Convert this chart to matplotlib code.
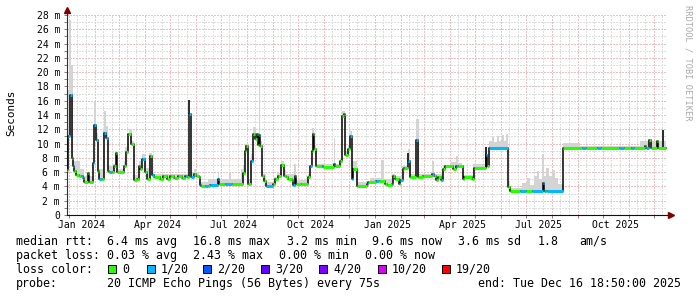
import numpy as np
import pandas as pd
import matplotlib
matplotlib.use("Agg")
import matplotlib.pyplot as plt
import matplotlib.dates as mdates
from matplotlib.ticker import MultipleLocator, NullFormatter
from matplotlib.patches import Rectangle

# median rtt, step values: days since 2024-01-01, ms, loss class (0 -> 0/20, 1 -> 1/20)
med_day = [-2.4, -1.2, 0.6, 3.0, 4.2, 5.4, 8.4, 12.0, 13.8, 16.2, 18.0, 22.2, 23.4, 29.3, 30.5,
           32.9, 34.7, 36.5, 39.5, 41.3, 43.7, 46.1, 47.9, 51.5, 53.9, 55.7, 57.5, 65.9, 67.7,
           70.1, 74.3, 77.8, 80.8, 83.8, 85.0, 87.4, 91.0, 93.4, 96.4, 98.8, 101.2, 109.0, 112.6,
           117.4, 121.0, 125.7, 130.5, 135.3, 138.9, 141.3, 143.7, 145.5, 149.7, 152.1, 155.1,
           156.3, 158.1, 163.0, 166.0, 168.9, 178.4, 179.6, 186.8, 195.2, 208.4, 210.2, 212.0,
           213.8, 217.9, 219.8, 222.7, 224.5, 225.7, 227.5, 228.7, 230.5, 233.5, 235.9, 244.3,
           246.7, 250.3, 253.9, 257.5, 259.9, 262.3, 267.1, 268.3, 270.1, 271.9, 277.8, 286.2,
           288.6, 290.4, 291.6, 293.4, 295.2, 303.0, 304.2, 316.8, 318.6, 324.6, 327.0, 329.4,
           330.6, 334.2, 336.6, 339.0, 340.2, 344.3, 356.9, 358.1, 367.7, 371.3, 378.5, 380.3,
           386.8, 388.0, 389.8, 394.6, 395.8, 399.4, 401.2, 406.0, 408.4, 415.6, 418.0, 424.0,
           434.7, 436.5, 439.5, 441.9, 444.9, 447.9, 449.7, 459.9, 463.5, 465.9, 471.3, 473.1,
           482.7, 484.5, 498.9, 500.6, 503.0, 525.1, 527.5, 540.1, 547.3, 554.5, 567.1, 568.3,
           570.7, 572.5, 591.0, 614.4, 618.6, 632.3, 636.5, 658.7, 664.7, 672.4, 676.6, 689.1,
           690.9, 694.5, 696.3, 703.5, 705.3, 714.8]
med_ms = [6.3, 11.0, 16.8, 8.0, 6.9, 6.2, 5.6, 5.5, 5.4, 5.2, 4.6, 5.9, 4.6, 7.3, 12.6,
          10.5, 6.2, 5.0, 5.0, 11.5, 10.8, 6.1, 6.0, 6.0, 6.9, 8.7, 6.0, 6.9, 8.8,
          11.4, 9.9, 4.9, 5.1, 6.9, 6.4, 7.9, 6.0, 5.1, 8.2, 5.6, 5.3, 5.1, 5.4,
          5.1, 5.4, 5.2, 5.4, 5.2, 5.4, 5.3, 14.1, 5.3, 5.8, 5.5, 5.3,
          4.2, 4.05, 4.05, 4.1, 4.2, 5.1, 4.3, 4.3, 4.3, 5.9, 8.9, 9.6,
          4.4, 7.5, 11.3, 10.6, 11.3, 9.8, 11.2, 9.6, 5.4, 4.8, 4.1, 4.4,
          5.0, 5.4, 7.0, 5.4, 5.3, 5.1, 4.9, 4.2, 5.4, 4.3, 4.4, 5.3,
          6.9, 8.9, 11.4, 9.3, 6.8, 6.8, 6.7, 7.2, 6.9, 7.5, 13.8, 14.2,
          8.4, 9.3, 11.1, 5.1, 6.5, 4.0, 4.3, 4.6, 4.8, 4.7, 4.4, 4.2,
          4.4, 5.5, 5.1, 4.4, 4.9, 6.5, 6.6, 7.5, 5.3, 10.5, 5.3, 5.4,
          5.8, 5.4, 4.9, 5.3, 4.9, 6.5, 6.8, 6.4, 6.8, 6.8, 5.1, 5.3,
          5.1, 6.6, 8.4, 6.8, 9.4, 3.9, 3.3, 3.3, 3.3, 3.3, 4.5, 3.3,
          3.3, 3.3, 9.4, 9.4, 9.4, 9.4, 9.4, 9.4, 9.4, 9.4, 9.4, 9.7,
          9.45, 10.5, 9.45, 10.3, 9.45, 9.45]
med_loss = [0, 1, 1, 0, 1, 0, 0, 0, 1, 0, 0, 0, 0, 1, 1,
            1, 0, 1, 0, 1, 1, 0, 1, 0, 0, 0, 0, 0, 0,
            0, 0, 0, 0, 0, 0, 1, 0, 0, 0, 1, 0, 0, 0,
            0, 0, 0, 0, 0, 1, 0, 1, 1, 0, 0, 0,
            1, 0, 1, 0, 1, 1, 0, 1, 0, 0, 0, 0,
            0, 1, 0, 0, 0, 0, 1, 0, 0, 0, 1, 0,
            0, 0, 0, 0, 0, 0, 0, 1, 1, 0, 0, 0,
            1, 0, 0, 0, 0, 1, 0, 1, 0, 0, 0, 0,
            0, 0, 1, 1, 0, 0, 1, 0, 1, 0, 0, 0,
            1, 0, 0, 0, 1, 0, 0, 1, 0, 1, 0, 0,
            1, 0, 0, 0, 1, 0, 0, 0, 1, 0, 0, 0,
            0, 0, 1, 0, 1, 0, 0, 1, 0, 1, 1, 1,
            0, 1, 0, 1, 0, 1, 0, 1, 0, 1, 0, 0,
            1, 0, 0, 0, 0, 0]

# smoke (spread of the pings), upper edge as steps
smoke_day = [-3.0, -0.6, 2.4, 4.2, 13.2, 18.0, 28.7, 30.5, 32.9, 34.7, 40.7, 41.9, 43.7, 46.1,
             52.7, 57.5, 65.9, 67.1, 71.3, 76.0, 77.8, 83.8, 86.8, 91.0, 95.8, 98.8, 101.8,
             143.1, 149.7, 152.1, 155.7, 166.5, 177.8, 179.6, 191.6, 194.0, 206.0, 208.4, 210.2,
             213.8, 217.9, 219.8, 224.0, 227.0, 228.7, 230.5, 235.9, 245.5, 249.1, 253.9, 256.9,
             259.9, 269.9, 272.1, 286.2, 289.2, 291.0, 293.4, 295.2, 316.8, 318.0, 324.6, 326.4,
             330.0, 334.2, 336.0, 338.4, 344.3, 360.5, 373.7, 377.2, 386.8, 390.4, 395.3, 398.9,
             405.4, 407.8, 415.0, 418.8, 434.1, 437.1, 447.9, 457.5, 463.5, 465.9, 470.7, 483.8,
             498.1, 500.6, 503.0, 506.6, 509.0, 512.6, 515.0, 518.6, 521.0, 523.4, 525.1, 528.1,
             542.5, 548.5, 552.1, 556.9, 560.5, 562.9, 566.5, 568.3, 571.3, 574.9, 578.5, 582.1,
             585.7, 591.0, 612.0, 683.9, 715.0]
smoke_ms = [17.5, 27.3, 21.0, 7.5, 6.5, 5.5, 8.0, 15.8, 11.5, 6.5, 12.0, 14.6, 12.5, 6.8,
            7.2, 6.4, 7.5, 9.5, 12.0, 10.3, 5.6, 7.5, 8.6, 6.6, 8.7, 6.0, 5.8,
            6.0, 6.5, 6.0, 4.6, 5.0, 6.0, 5.0, 5.9, 5.0, 6.5, 7.0, 9.9,
            5.0, 8.5, 12.3, 11.5, 19.0, 10.3, 5.8, 4.6, 5.3, 5.9, 7.5, 6.3,
            5.8, 7.2, 4.9, 5.7, 8.0, 12.2, 9.8, 7.1, 10.8, 7.2, 8.0, 14.5,
            9.0, 9.8, 11.8, 7.5, 4.6, 5.2, 7.7, 5.0, 5.8, 5.5, 5.4, 6.9,
            9.3, 5.8, 13.4, 5.8, 7.5, 5.8, 7.0, 7.4, 8.3, 7.3, 5.6, 7.1,
            9.5, 7.2, 10.4, 10.9, 10.2, 11.0, 10.3, 11.2, 10.4, 11.3, 4.8, 3.8,
            4.5, 5.2, 4.2, 5.5, 6.2, 5.0, 8.5, 5.5, 6.6, 5.5, 6.3, 5.2,
            4.3, 10.1, 9.7, 10.3, 10.3]

# dark single spikes
spike_day = [143.7, 406.0, 498.7, 710.8]
spike_ms = [16.1, 8.7, 9.5, 11.9]

loss_names = ["0", "1/20", "2/20", "3/20", "4/20", "10/20", "19/20"]
loss_colors = ["#26ff00", "#00b8ff", "#0059ff", "#5e00ff", "#7e00ff", "#dd00ff", "#ff0000"]

x_labels = ["Jan 2024", "Apr 2024", "Jul 2024", "Oct 2024", "Jan 2025", "Apr 2025", "Jul 2025", "Oct 2025"]
x_label_at = ["2024-01-16", "2024-04-16", "2024-07-16", "2024-10-16",
              "2025-01-16", "2025-04-16", "2025-07-16", "2025-10-16"]
y_ticks = list(range(0, 29, 2))
y_labels = ["0"] + ["%d m" % v for v in y_ticks[1:]]

W, H = 697, 297
MONO = "DejaVu Sans Mono"
plt.rcParams["font.family"] = MONO

start = pd.Timestamp("2024-01-01")
end = pd.Timestamp("2025-12-16 18:50")


def to_num(days):
    t = start + pd.to_timedelta(np.asarray(days, dtype=float), unit="D")
    return mdates.date2num(t.to_numpy())


def px(x, y):
    # pixel position -> figure fraction
    return x / W, 1 - y / H


fig = plt.figure(figsize=(W / 100, H / 100), dpi=100, facecolor="white")
ax = fig.add_axes([67 / W, (H - 215) / H, 600 / W, 200 / H])

mx = to_num(med_day)
my = np.array(med_ms)
sx = to_num(smoke_day)
sy = np.array(smoke_ms)

# smoke: from the median up to the smoke edge
grid = np.union1d(mx, sx)
base_v = my[np.clip(np.searchsorted(mx, grid, side="right") - 1, 0, None)]
top_v = sy[np.clip(np.searchsorted(sx, grid, side="right") - 1, 0, None)]
ax.bar(grid[:-1], np.maximum(top_v[:-1] - base_v[:-1], 0), width=np.diff(grid), bottom=base_v[:-1],
       align="edge", color="#d4d4d4", linewidth=0, zorder=2)

# dark spikes
spx = to_num(spike_day)
spb = my[np.searchsorted(mx, spx, side="right") - 1]
ax.vlines(spx, spb, spike_ms, color="#1a1a1a", lw=1.3, zorder=3)

# median: black connectors + colored by loss
ax.step(mx, my, where="post", color="black", lw=1.1, zorder=3)
ax.hlines(my[:-1], mx[:-1], mx[1:], colors=[loss_colors[c] for c in med_loss[:-1]],
          lw=2.2, capstyle="butt", zorder=4)

ax.set_xlim(to_num([-2.4])[0], mdates.date2num(end.to_pydatetime()))
ax.set_ylim(0, 28)

# grid (dotted, crisp, light)
ax.xaxis.set_major_locator(mdates.MonthLocator())
ax.xaxis.set_minor_locator(mdates.DayLocator(bymonthday=[11, 21]))
ax.xaxis.set_major_formatter(NullFormatter())
ax.yaxis.set_major_locator(MultipleLocator(2))
ax.yaxis.set_minor_locator(MultipleLocator(1))
ax.set_yticks(y_ticks)
ax.set_yticklabels(y_labels)
ax.grid(which="major", color="#ecc0c0", lw=0.72, ls=(0, (1.4, 1.4)), antialiased=False, zorder=0)
ax.grid(which="minor", color="#dedede", lw=0.72, ls=(0, (1.4, 1.4)), antialiased=False, zorder=0)
ax.set_axisbelow(True)

ax.tick_params(axis="y", which="both", direction="out", length=2, width=0.7, color="#808080",
               labelsize=7.05, pad=3)
ax.tick_params(axis="x", which="major", direction="out", length=2, width=0.7, color="#808080")
ax.tick_params(axis="x", which="minor", length=0)

for lab, d in zip(x_labels, x_label_at):
    ax.text(mdates.date2num(pd.Timestamp(d).to_pydatetime()), -0.026, lab,
            transform=ax.get_xaxis_transform(), ha="center", va="top", fontsize=7.05)

for s in ["top", "right"]:
    ax.spines[s].set_visible(False)
ax.spines["left"].set_color("#303030")
ax.spines["bottom"].set_color("#101010")
ax.spines["left"].set_linewidth(0.8)
ax.spines["bottom"].set_linewidth(0.8)

# axis arrows
ax.plot([0, 0], [1, 1.015], transform=ax.transAxes, color="#303030", lw=0.8, clip_on=False)
ax.plot([1, 1.004], [0, 0], transform=ax.transAxes, color="#101010", lw=0.8, clip_on=False)
ax.plot([0], [1.0225], transform=ax.transAxes, marker="^", ms=4, color="#7f0000",
        mec="#7f0000", clip_on=False)
ax.plot([1.0067], [0], transform=ax.transAxes, marker=">", ms=4, color="#7f0000",
        mec="#7f0000", clip_on=False)

# labels
fig.text(*px(11, 113), "Seconds", rotation=90, ha="center", va="center", fontsize=7.9)
fig.text(*px(688, 5), "RRDTOOL / TOBI OETIKER", rotation=270, ha="center", va="top",
         fontsize=6.2, color="#a8a8a8")

# legend
fs = 8.4
rows = [
    (245, [(16, "median rtt:"), (107, "6.4 ms avg"), (193, "16.8 ms max"), (287, "3.2 ms min"),
           (372, "9.6 ms now"), (458, "3.6 ms sd"), (538, "1.8"), (579, "am/s")]),
    (259, [(16, "packet loss:"), (107, "0.03 % avg"), (193, "2.43 % max"), (279, "0.00 % min"),
           (365, "0.00 % now")]),
    (287, [(16, "probe:"), (107, "20 ICMP Echo Pings (56 Bytes) every 75s"),
           (478, "end: Tue Dec 16 18:50:00 2025")]),
]
for y, items in rows:
    for x, s in items:
        fig.text(*px(x, y), s, ha="left", va="baseline", fontsize=fs)

fig.text(*px(16, 273), "loss color:", ha="left", va="baseline", fontsize=fs)
box_x = [108, 147, 203, 261, 319, 378, 442]
for bx, name, col in zip(box_x, loss_names, loss_colors):
    fig.add_artist(Rectangle(px(bx, 273), 8 / W, 8 / H, transform=fig.transFigure,
                             facecolor=col, edgecolor="black", lw=0.7))
    fig.text(*px(bx + 14, 273), name, ha="left", va="baseline", fontsize=fs)

fig.savefig("out.png", dpi=100, facecolor="white")
